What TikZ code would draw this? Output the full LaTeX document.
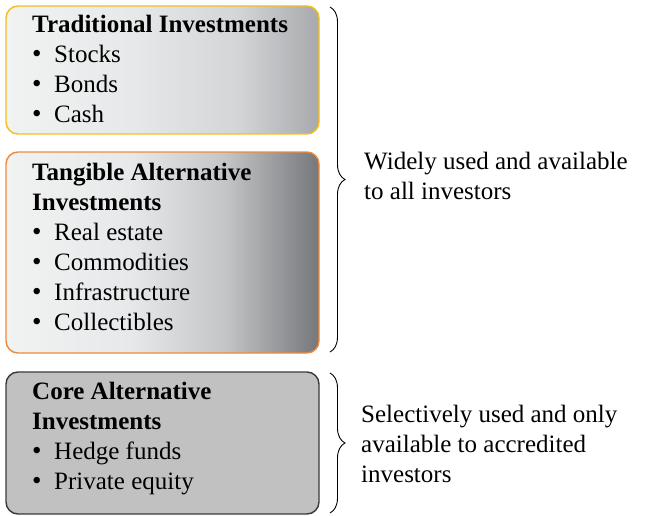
\documentclass[tikz,border=0pt]{standalone}
\usepackage{fontspec}
\setmainfont{Liberation Serif}
\usetikzlibrary{decorations.pathreplacing}
\definecolor{goldb}{HTML}{F5BE1E}
\definecolor{orangeb}{HTML}{EE8A3C}
\definecolor{coreb}{HTML}{3A3A3A}
\definecolor{corefill}{HTML}{C1C1C1}
\definecolor{ga0}{HTML}{F1F2F2}
\definecolor{ga1}{HTML}{E7E8E9}
\definecolor{ga2}{HTML}{D4D5D7}
\definecolor{ga3}{HTML}{A8A9AC}
\definecolor{gb2}{HTML}{C4C5C7}
\definecolor{gb3}{HTML}{76777A}
\pgfdeclarehorizontalshading{shadeA}{100bp}{color(0bp)=(ga0); color(25bp)=(ga0); color(45bp)=(ga1); color(62bp)=(ga2); color(75bp)=(ga3); color(100bp)=(ga3)}
\pgfdeclarehorizontalshading{shadeB}{100bp}{color(0bp)=(ga0); color(25bp)=(ga0); color(45bp)=(ga1); color(60bp)=(gb2); color(75bp)=(gb3); color(100bp)=(gb3)}
\newcommand{\bul}{\makebox[22pt][l]{\fontsize{27}{30}\selectfont\textbullet}}
\begin{document}
\begin{tikzpicture}[x=1pt,y=-1pt,
  boxstyle/.style={rounded corners=12pt, line width=1.4pt},
  txt/.style={anchor=north west, inner sep=0pt, align=left,
    font=\fontsize{25}{30}\selectfont},
  brc/.style={decorate, decoration={brace, amplitude=15pt}, line width=0.9pt}]
\useasboundingbox (0,0) rectangle (653,516);
% boxes
\draw[boxstyle, draw=goldb, shading=shadeA] (6,6) rectangle (319,134);
\draw[boxstyle, draw=orangeb, shading=shadeB] (6,152) rectangle (319,353);
\draw[boxstyle, draw=coreb, fill=corefill] (6,372) rectangle (319,514);
% box texts
\node[txt] (t1) at (32,15) {\textbf{Traditional Investments}\\ \bul Stocks\\ \bul Bonds\\ \bul Cash};
\node[txt] (t2) at (32,163) {\textbf{Tangible Alternative}\\ \textbf{Investments}\\ \bul Real estate\\ \bul Commodities\\ \bul Infrastructure\\ \bul Collectibles};
\node[txt] (t3) at (32,382) {\textbf{Core Alternative}\\ \textbf{Investments}\\ \bul Hedge funds\\ \bul Private equity};
% braces
\coordinate (b1a) at (330,7);
\coordinate (b1b) at (330,352);
\coordinate (b2a) at (330,373);
\coordinate (b2b) at (330,513);
\draw[brc] (b1a) -- (b1b);
\draw[brc] (b2a) -- (b2b);
% right texts
\node[txt] (r1) at (364,152) {Widely used and available\\ to all investors};
\node[txt] (r2) at (361,405) {Selectively used and only\\ available to accredited\\ investors};
\end{tikzpicture}
\end{document}
